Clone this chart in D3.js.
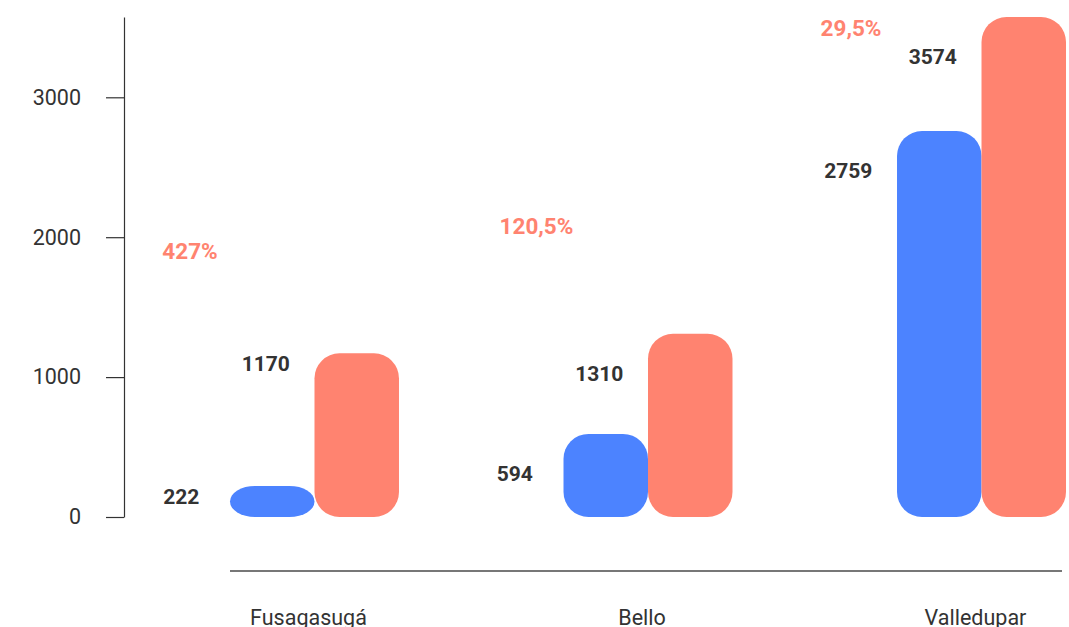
<!DOCTYPE html>
<html>
<head>
<meta charset="utf-8">
<script src="https://cdn.jsdelivr.net/npm/d3@7"></script>
<style>
	html, body { margin: 0; padding: 0; background: #fff; }
	svg { display: block; font-family: Roboto, 'Noto Sans', sans-serif; }
</style>
</head>
<body>
<svg id="chart" width="1069" height="627"></svg>
<script>
'use strict'

// data
var cities = ['Fusagasugá', 'Bello', 'Valledupar'];
var before = [222, 594, 2759];
var after = [1170, 1310, 3574];
var growth = ['427%', '120,5%', '29,5%'];
var yTicks = [0, 1000, 2000, 3000];

// hand placed annotation nudges (px), not data
var valueLift = [29, 0, 0];
var pctDx = [-40, -27, -46];
var pctDy = [-94, -100, 19];

var blue = '#4c83ff', salmon = '#ff8370', ink = '#333333';

var svg = d3.select('#chart');

var yScale = d3.scaleLinear()
	.domain([0, d3.max(after)])
	.range([517, 17]);

var xGroup = d3.scaleBand()
	.domain(cities)
	.range([230, 1066])
	.paddingInner(0.4933)
	.paddingOuter(0);

var xBar = d3.scaleBand()
	.domain(['before', 'after'])
	.range([0, xGroup.bandwidth()]);

// y axis
var yAxis = svg.append('g')
	.attr('transform', 'translate(124,0)')
	.call(d3.axisLeft(yScale)
		.tickValues(yTicks)
		.tickFormat(d3.format('d'))
		.tickSize(18)
		.tickPadding(25)
		.tickSizeOuter(0));
yAxis.select('.domain').attr('stroke', ink).attr('stroke-width', 1.2);
yAxis.selectAll('.tick line').attr('stroke', ink).attr('stroke-width', 1.2);
yAxis.selectAll('.tick text')
	.attr('fill', ink)
	.attr('font-size', 21.5)
	.attr('font-family', 'Roboto, sans-serif');

// x axis line
svg.append('line')
	.attr('x1', xGroup.range()[0])
	.attr('x2', xGroup.range()[1] - 4)
	.attr('y1', 571)
	.attr('y2', 571)
	.attr('stroke', '#777')
	.attr('stroke-width', 2);

svg.append('g')
	.selectAll('text')
	.data(cities)
	.enter()
	.append('text')
	.attr('x', function(d){ return xGroup(d) + xGroup.bandwidth()/2 - 6; })
	.attr('y', 625)
	.attr('text-anchor', 'middle')
	.attr('font-size', 21.5)
	.attr('fill', ink)
	.text(function(d){ return d; });

// bars
var rows = cities.map(function(c, i){
	return { city: c, i: i, before: before[i], after: after[i], growth: growth[i] };
});

function pair(d){
	return [
		{ key: 'before', value: d.before, i: d.i },
		{ key: 'after', value: d.after, i: d.i }
	];
}

var groups = svg.append('g')
	.selectAll('g')
	.data(rows)
	.enter()
	.append('g')
	.attr('transform', function(d){ return `translate(${xGroup(d.city)},0)`; });

groups.selectAll('rect')
	.data(pair)
	.enter()
	.append('rect')
	.attr('x', function(d){ return xBar(d.key); })
	.attr('y', function(d){ return yScale(d.value); })
	.attr('width', xBar.bandwidth())
	.attr('height', function(d){ return yScale(0) - yScale(d.value); })
	.attr('rx', 25)
	.attr('fill', function(d){ return d.key === 'before' ? blue : salmon; });

// value labels
groups.selectAll('text.val')
	.data(pair)
	.enter()
	.append('text')
	.attr('class', 'val')
	.attr('x', function(d){ return xBar(d.key) + xBar.bandwidth()/2 - 91; })
	.attr('y', function(d){ return yScale(d.value) + 47 - valueLift[d.i]; })
	.attr('text-anchor', 'middle')
	.attr('font-size', 21)
	.attr('font-weight', 'bold')
	.attr('fill', ink)
	.text(function(d){ return d.value; });

// growth labels
groups.append('text')
	.attr('x', function(d){ return pctDx[d.i]; })
	.attr('y', function(d){ return yScale(d.after) + pctDy[d.i]; })
	.attr('text-anchor', 'middle')
	.attr('font-size', 22.5)
	.attr('font-weight', 'bold')
	.attr('fill', salmon)
	.text(function(d){ return d.growth; });
</script>
</body>
</html>
